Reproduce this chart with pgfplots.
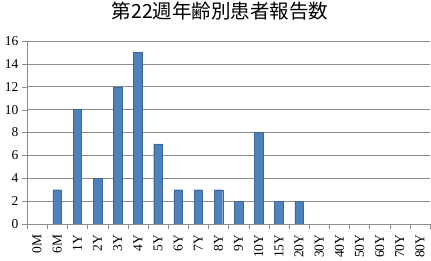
\documentclass[border=0pt]{standalone}
\usepackage{pgfplots}
\pgfplotsset{compat=1.18}
\usepackage{fontspec}
\setmainfont{Liberation Serif}
\newfontfamily\cjk{Noto Sans CJK JP}
\definecolor{barblue}{HTML}{4F81BD}
\definecolor{gridgray}{HTML}{8C8C8C}
\begin{document}
\begin{tikzpicture}
\path[use as bounding box] (0pt,0pt) rectangle (431pt,261pt);
\node[font=\cjk\fontsize{19.5}{22}\selectfont] at (220pt,250pt) {第22週年齢別患者報告数};
\begin{axis}[
  at={(27pt,37pt)}, anchor=south west,
  scale only axis, width=403pt, height=183pt,
  xmin=-0.5, xmax=19.5, ymin=0, ymax=16,
  ytick={0,2,...,16},
  xtick={0,...,19},
  xticklabels={0M,6M,1Y,2Y,3Y,4Y,5Y,6Y,7Y,8Y,9Y,10Y,15Y,20Y,30Y,40Y,50Y,60Y,70Y,80Y},
  minor xtick={-0.5,0.5,...,19.5},
  x tick style={draw=none},
  minor x tick style={draw=gridgray},
  y tick style={draw=gridgray},
  tick align=outside,
  major tick length=5pt, minor tick length=5pt,
  axis x line*=bottom, axis y line*=left,
  axis line style={draw=gridgray, -},
  ymajorgrids, grid style={draw=gridgray, line width=0.6pt},
  /pgf/number format/assume math mode=true,
  tick label style={font=\fontsize{13.5}{15}\selectfont},
  xticklabel style={rotate=90, anchor=east, xshift=-2pt},
  yticklabel style={xshift=0pt},
  ybar, bar width=8.5pt, bar shift=0pt,
]
\addplot[fill=barblue, draw=barblue!80!black, line width=0.3pt] coordinates {
(1,3) (2,10) (3,4) (4,12) (5,15) (6,7) (7,3) (8,3) (9,3) (10,2) (11,8) (12,2) (13,2)
};
\end{axis}
\end{tikzpicture}
\end{document}
